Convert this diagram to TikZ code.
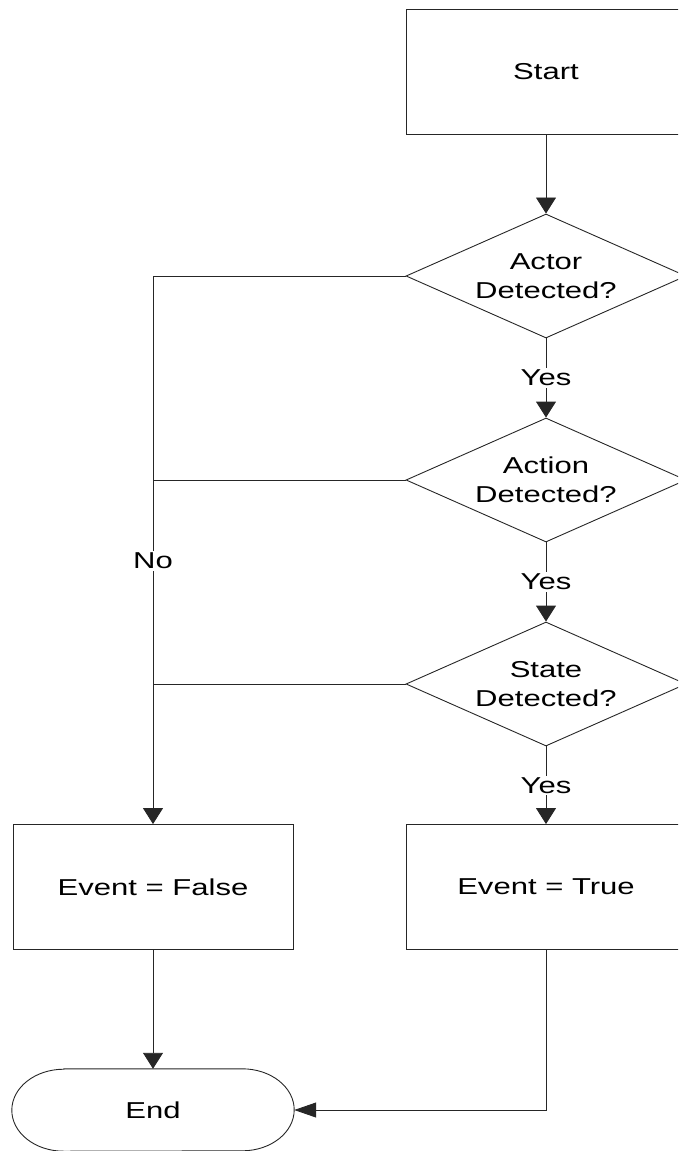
\documentclass[tikz,border=0pt]{standalone}
\usepackage{fontspec}
\newfontfamily\chartfont[FakeStretch=1.35]{Liberation Sans}
\usetikzlibrary{shapes.geometric,arrows.meta}
\begin{document}
\begin{tikzpicture}[x=1pt,y=-1pt,
  every node/.style={font=\chartfont\fontsize{23}{29.5}\selectfont},
  line/.style={draw=black!85,line width=0.9pt},
  box/.style={line,rectangle,minimum width=280pt,minimum height=125pt,inner sep=0pt},
  decision/.style={line,diamond,aspect=2.26,minimum width=280pt,minimum height=124pt,inner sep=0pt,align=center},
  flow/.style={line,-{Triangle[length=16pt,width=20pt]}},
  flowh/.style={line,-{Triangle[length=22pt,width=15pt]}},
  tag/.style={fill=white,inner sep=1.5pt}]
\useasboundingbox (0,0) rectangle (678,1151);
\clip (0,0) rectangle (678,1151);

% main column
\node[box] (start) at (546,71.5) {Start};
\node[decision] (actor) at (546,276) {Actor\\Detected?};
\node[decision] (action) at (546,480) {Action\\Detected?};
\node[decision] (state) at (546,684) {State\\Detected?};
\node[box] (true) at (546,887) {Event = True};

% left column
\node[box] (false) at (153,887) {Event = False};
\node[minimum width=282pt,minimum height=82pt,inner sep=0pt] (end) at (153,1110) {End};
\draw[line] ([xshift=52pt]end.north west) -- ([xshift=-52pt]end.north east)
  arc[start angle=90,end angle=-90,x radius=52pt,y radius=41pt]
  -- ([xshift=52pt]end.south west)
  arc[start angle=270,end angle=90,x radius=52pt,y radius=41pt] -- cycle;

% "yes" path
\draw[flow] (start) -- (actor);
\draw[flow] (actor) -- node[tag]{Yes} (action);
\draw[flow] (action) -- node[tag]{Yes} (state);
\draw[flow] (state) -- node[tag]{Yes} (true);

% "no" branches collect on the left
\coordinate (nocol) at (153,276);
\draw[flow] (actor.west) -- (nocol) -- node[tag,pos=0.52]{No} (false.north);
\draw[line] (action.west) -- (action.west -| nocol);
\draw[line] (state.west) -- (state.west -| nocol);

% both outcomes lead to the end
\draw[flow] (false) -- (end);
\draw[flowh] (true.south) |- (end.east);
\end{tikzpicture}
\end{document}
